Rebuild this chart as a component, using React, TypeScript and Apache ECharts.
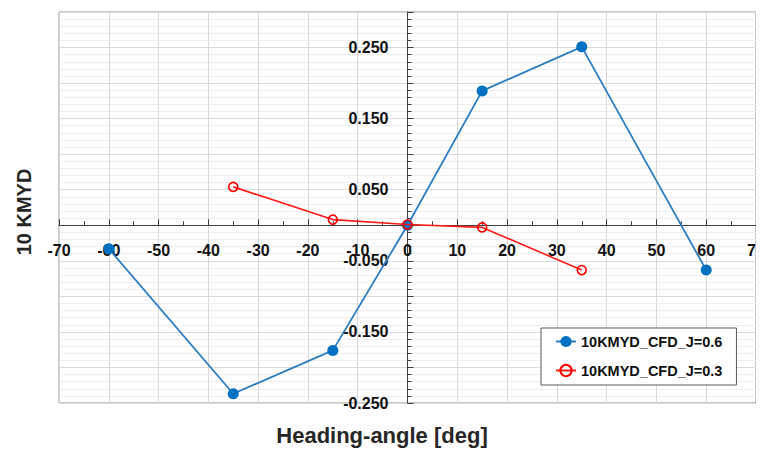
import React, { useEffect, useRef } from "react";
import * as echarts from "echarts";

const angles06 = [-60, -35, -15, 0, 15, 35, 60];
const kmyd06 = [-0.033, -0.237, -0.176, 0.0, 0.189, 0.251, -0.063];
const angles03 = [-35, -15, 0, 15, 35];
const kmyd03 = [0.054, 0.008, 0.001, -0.003, -0.063];
const seriesNames = ["10KMYD_CFD_J=0.6", "10KMYD_CFD_J=0.3"];
const xTitle = "Heading-angle [deg]";
const yTitle = "10 KMYD";

const FONT = "'Liberation Sans', Arial, sans-serif";
const X_MIN = -70;
const X_MAX = 70;
const Y_MIN = -0.25;
const Y_MAX = 0.3;

export default function App() {
  const ref = useRef<HTMLDivElement>(null);
  useEffect(() => {
    if (!ref.current) return;
    const chart = echarts.init(ref.current, null, { renderer: "svg" });
    chart.setOption({
      animation: false,
      backgroundColor: "#ffffff",
      textStyle: { fontFamily: FONT },
      grid: {
        left: 59,
        top: 12,
        right: 8,
        bottom: 47,
        show: true,
        borderColor: "#8c8c8c",
        borderWidth: 1,
        backgroundColor: "#ffffff",
        containLabel: false,
        outerBoundsMode: "none",
      },
      xAxis: {
        type: "value",
        min: X_MIN,
        max: X_MAX,
        interval: 10,
        axisLine: { onZero: false, lineStyle: { color: "#404040", width: 1 } },
        axisTick: { show: true, inside: true, length: 6, lineStyle: { color: "#404040" } },
        minorTick: { show: true, splitNumber: 2, length: 4, lineStyle: { color: "#404040" } },
        axisLabel: {
          margin: 17,
          fontSize: 16,
          fontWeight: "bold",
          color: "#111111",
          fontFamily: FONT,
          hideOverlap: false,
        },
        splitLine: { show: true, lineStyle: { color: "#d9d9d9", width: 1 } },
        minorSplitLine: { show: false },
      },
      yAxis: {
        type: "value",
        min: Y_MIN,
        max: Y_MAX,
        interval: 0.05,
        axisLine: { onZero: false, lineStyle: { color: "#404040", width: 1 } },
        axisTick: { show: true, inside: true, length: 6, lineStyle: { color: "#404040" } },
        minorTick: { show: true, splitNumber: 5, length: 4, lineStyle: { color: "#404040" } },
        axisLabel: {
          margin: 19,
          fontSize: 16,
          fontWeight: "bold",
          color: "#111111",
          fontFamily: FONT,
          hideOverlap: false,
          formatter: (v: number) => {
            const k = Math.round(v * 100);
            return Math.abs(k) % 10 === 5 ? v.toFixed(3) : "";
          },
        },
        splitLine: { show: true, lineStyle: { color: "#dcdcdc", width: 1 } },
        minorSplitLine: { show: true, lineStyle: { color: "#efefef", width: 1 } },
      },
      legend: {
        show: true,
        orient: "vertical",
        left: 541,
        top: 328,
        padding: [6, 14, 7, 14],
        itemGap: 14,
        itemWidth: 20,
        itemHeight: 14,
        backgroundColor: "#ffffff",
        borderColor: "#595959",
        borderWidth: 1,
        borderRadius: 0,
        textStyle: {
          fontSize: 14.5,
          fontWeight: "bold",
          color: "#111111",
          fontFamily: FONT,
        },
        data: seriesNames,
      },
      graphic: [
        {
          type: "text",
          left: "center",
          top: 424,
          style: {
            text: xTitle,
            font: `bold 22px ${FONT}`,
            fill: "#262626",
          },
        },
        {
          type: "text",
          x: 24,
          y: 212,
          rotation: Math.PI / 2,
          style: {
            text: yTitle,
            font: `bold 20px ${FONT}`,
            fill: "#262626",
            align: "center",
            verticalAlign: "middle",
          },
        },
      ],
      series: [
        {
          name: seriesNames[0],
          type: "line",
          data: angles06.map((a, i) => [a, kmyd06[i]]),
          symbol: "circle",
          symbolSize: 11,
          itemStyle: { color: "#0070c0" },
          lineStyle: { color: "#2e7dc0", width: 1.8 },
          z: 3,
        },
        {
          name: seriesNames[1],
          type: "line",
          data: angles03.map((a, i) => [a, kmyd03[i]]),
          symbol: "circle",
          symbolSize: 9,
          itemStyle: { color: "rgba(255,255,255,0)", borderColor: "#ff0000", borderWidth: 1.6 },
          lineStyle: { color: "#ff1a1a", width: 1.6 },
          z: 4,
        },
      ],
    });
    // Move both axes (line, ticks, labels) so they cross at the origin, using the chart's own scales.
    const origin = chart.convertToPixel({ gridIndex: 0 }, [0, 0]) as number[];
    const corner = chart.convertToPixel({ gridIndex: 0 }, [X_MIN, Y_MIN]) as number[];
    if (origin && corner) {
      chart.setOption({
        xAxis: { offset: -(corner[1] - origin[1]) },
        yAxis: { offset: -(origin[0] - corner[0]) },
      });
    }
    return () => chart.dispose();
  }, []);
  return <div ref={ref} style={{ width: 764, height: 450, marginLeft: -8, marginTop: -8 }} />;
}
